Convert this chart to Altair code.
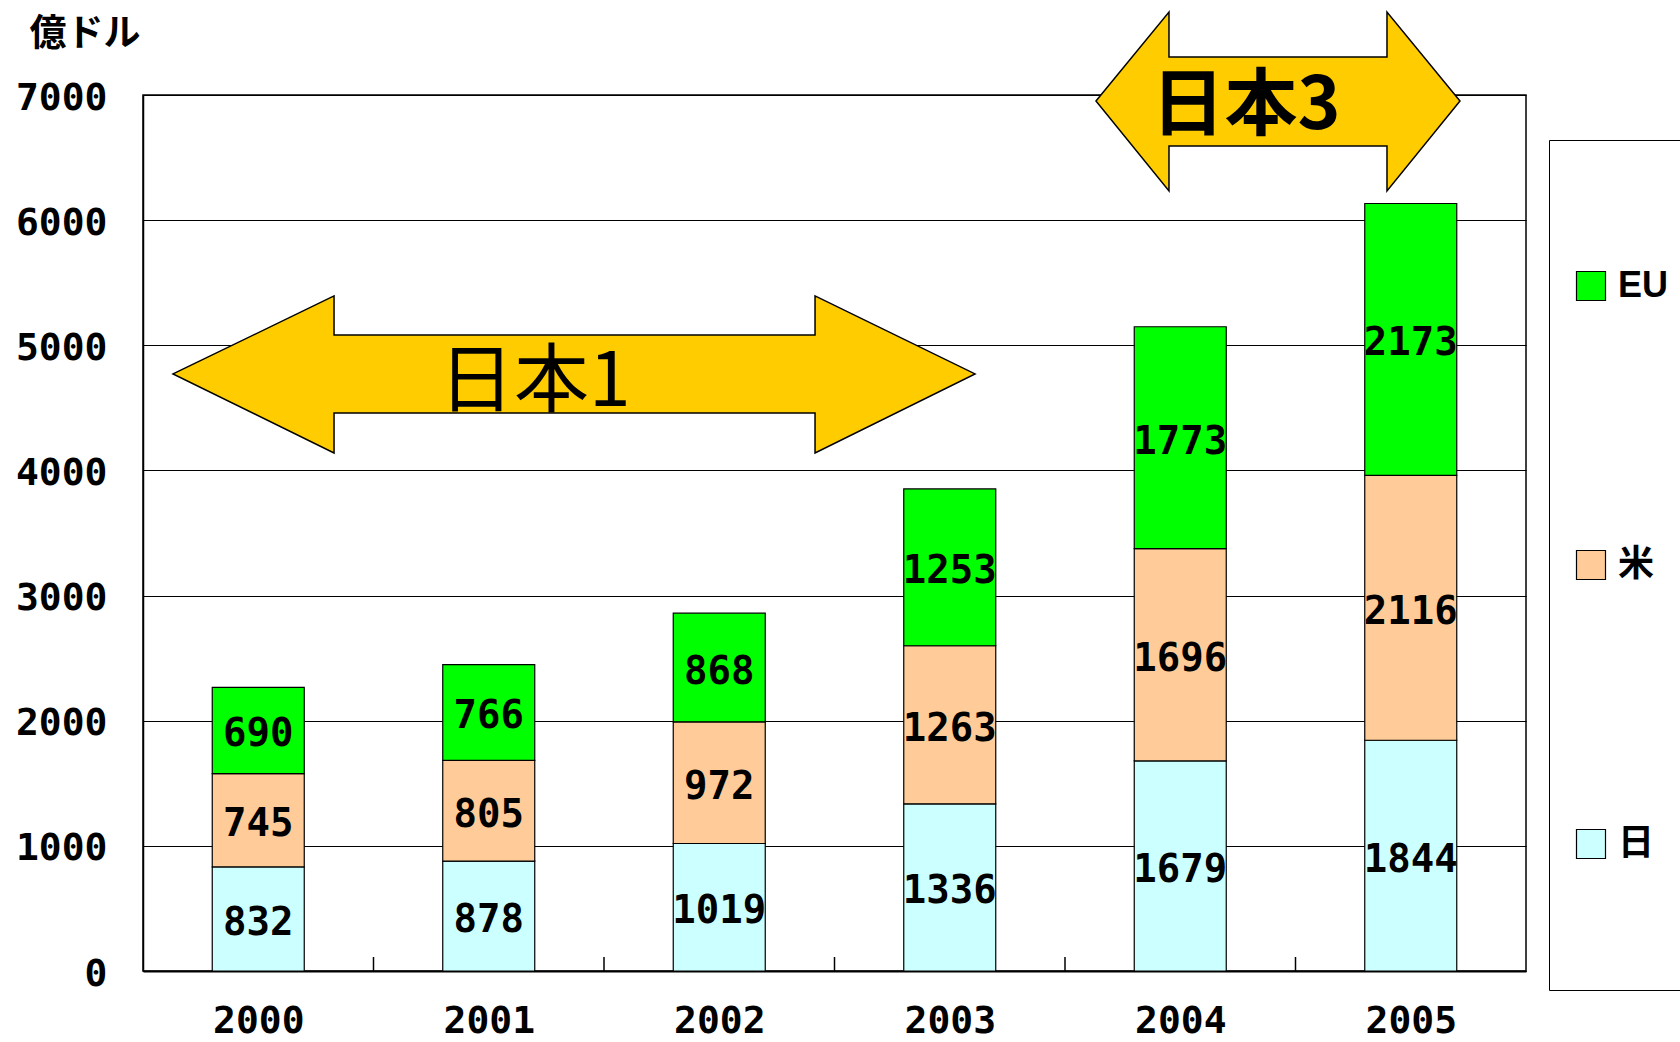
import altair as alt
import pandas as pd

# ---- data ----
years = [2000, 2001, 2002, 2003, 2004, 2005]
regions = ["EU", "米", "日"]            # legend order (top to bottom)
stack_order = {"日": 0, "米": 1, "EU": 2}  # bottom to top
jp = [832, 878, 1019, 1336, 1679, 1844]
us = [745, 805, 972, 1263, 1696, 2116]
eu = [690, 766, 868, 1253, 1773, 2173]
colors = ["#00FF00", "#FFCC99", "#CCFFFF"]

tick_positions = [2000.5, 2001.5, 2002.5, 2003.5, 2004.5]
tick_len = 112

# annotation arrows: label and centre (year, 億ドル)
arrow_labels = ["日本1", "日本3"]
arrow_x = [2001.37, 2004.424]
arrow_y = [4771, 6952]
text_x = [2001.20, 2004.285]
text_y = [4700, 6905]

# arrow outlines (style: SVG paths in pixels around the centre)
ARROW1_PATH = ("M -401 0 L -240 -78 L -240 -39 L 241 -39 L 241 -78 L 401 0 "
               "L 241 79 L 241 39 L -240 39 L -240 79 Z")
ARROW3_PATH = ("M -182 0 L -109 -89 L -109 -44 L 109 -44 L 109 -89 L 182 0 "
               "L 109 90 L 109 45 L -109 45 L -109 90 Z")

rows = []
for i, y in enumerate(years):
    for reg, vals in (("日", jp), ("米", us), ("EU", eu)):
        rows.append({"year": y, "region": reg, "value": vals[i], "ord": stack_order[reg]})
df = pd.DataFrame(rows)

NUM_FONT = "DejaVu Sans Mono"
JP_FONT = "Noto Sans CJK JP"

xscale = alt.Scale(domain=[1999.5, 2005.5], nice=False, zero=False, padding=0)
yscale = alt.Scale(domain=[0, 7000], nice=False, padding=0)

base = alt.Chart(df).transform_stack(
    stack="value", groupby=["year"], as_=["v0", "v1"],
    sort=[alt.SortField("ord", order="ascending")]
).transform_calculate(mid="(datum.v0 + datum.v1) / 2")

bars = base.mark_bar(size=92, stroke="black", strokeWidth=1.2).encode(
    x=alt.X("year:Q", scale=xscale,
            axis=alt.Axis(values=years, format="d", ticks=False, grid=False,
                          labelFont=NUM_FONT, labelFontWeight="bold", labelFontSize=38,
                          labelColor="black", labelPadding=31, labelFlush=False,
                          domainColor="black", domainWidth=2, title=None)),
    y=alt.Y("v0:Q", scale=yscale,
            axis=alt.Axis(values=list(range(0, 7001, 1000)), format="d", ticks=False,
                          grid=True, gridColor="black", gridWidth=1.2, gridOpacity=1,
                          labelFont=NUM_FONT, labelFontWeight="bold", labelFontSize=38,
                          labelColor="black", labelPadding=36, labelOffset=3,
                          domainColor="black", domainWidth=1.5,
                          title="億ドル", titleAngle=0, titleX=-114, titleY=-61,
                          titleAlign="left", titleBaseline="middle",
                          titleFont=JP_FONT, titleFontSize=37, titleFontWeight="bold",
                          titleColor="black")),
    y2="v1:Q",
    color=alt.Color("region:N", scale=alt.Scale(domain=regions, range=colors),
                    legend=alt.Legend(title=None, orient="none", legendX=1406, legendY=45,
                                      padding=24, strokeColor="black", fillColor="white",
                                      symbolType="square", symbolSize=841,
                                      symbolStrokeColor="black", symbolStrokeWidth=1.2,
                                      labelFont="Liberation Sans, " + JP_FONT,
                                      labelFontSize=36, labelFontWeight="bold",
                                      labelColor="black", labelOffset=9,
                                      clipHeight=244, rowPadding=35)),
)

labels = base.mark_text(font=NUM_FONT, fontWeight="bold", fontSize=39, dy=4,
                        color="black", baseline="middle", align="center").encode(
    x=alt.X("year:Q", scale=xscale),
    y=alt.Y("mid:Q", scale=yscale),
    text=alt.Text("value:Q", format="d"),
)

ticks = alt.Chart(pd.DataFrame({"t": tick_positions, "len": [tick_len] * len(tick_positions)})).mark_rule(
    color="black", strokeWidth=1.5).encode(
    x=alt.X("t:Q", scale=xscale),
    y=alt.Y("zero:Q", scale=yscale),
    y2="len:Q",
).transform_calculate(zero="0")

adf = pd.DataFrame({"label": arrow_labels, "x": arrow_x, "y": arrow_y,
                    "tx": text_x, "ty": text_y})


def arrow_layer(idx, path, weight, size):
    one = adf.iloc[[idx]]
    shape = alt.Chart(one).mark_point(shape=path, size=4, filled=True, fill="#FFCC00",
                                      stroke="black", strokeWidth=1.5, opacity=1,
                                      fillOpacity=1, strokeOpacity=1).encode(
        x=alt.X("x:Q", scale=xscale),
        y=alt.Y("y:Q", scale=yscale),
    )
    txt = alt.Chart(one).mark_text(
        font=JP_FONT, fontSize=size, fontWeight=weight, color="black",
        align="center", baseline="middle").encode(
        x=alt.X("tx:Q", scale=xscale),
        y=alt.Y("ty:Q", scale=yscale),
        text="label:N",
    )
    return shape + txt


chart = alt.layer(
    bars, labels, ticks,
    arrow_layer(0, ARROW1_PATH, "normal", 75),
    arrow_layer(1, ARROW3_PATH, "bold", 73),
).properties(
    width=1383, height=876,
    autosize=alt.AutoSizeParams(type="none"),
    padding={"left": 143, "top": 95, "right": 154, "bottom": 71},
    background="white",
).configure_view(stroke="black", strokeWidth=1.5)

chart.save("out.html", embed_options={"renderer": "svg", "actions": False})
